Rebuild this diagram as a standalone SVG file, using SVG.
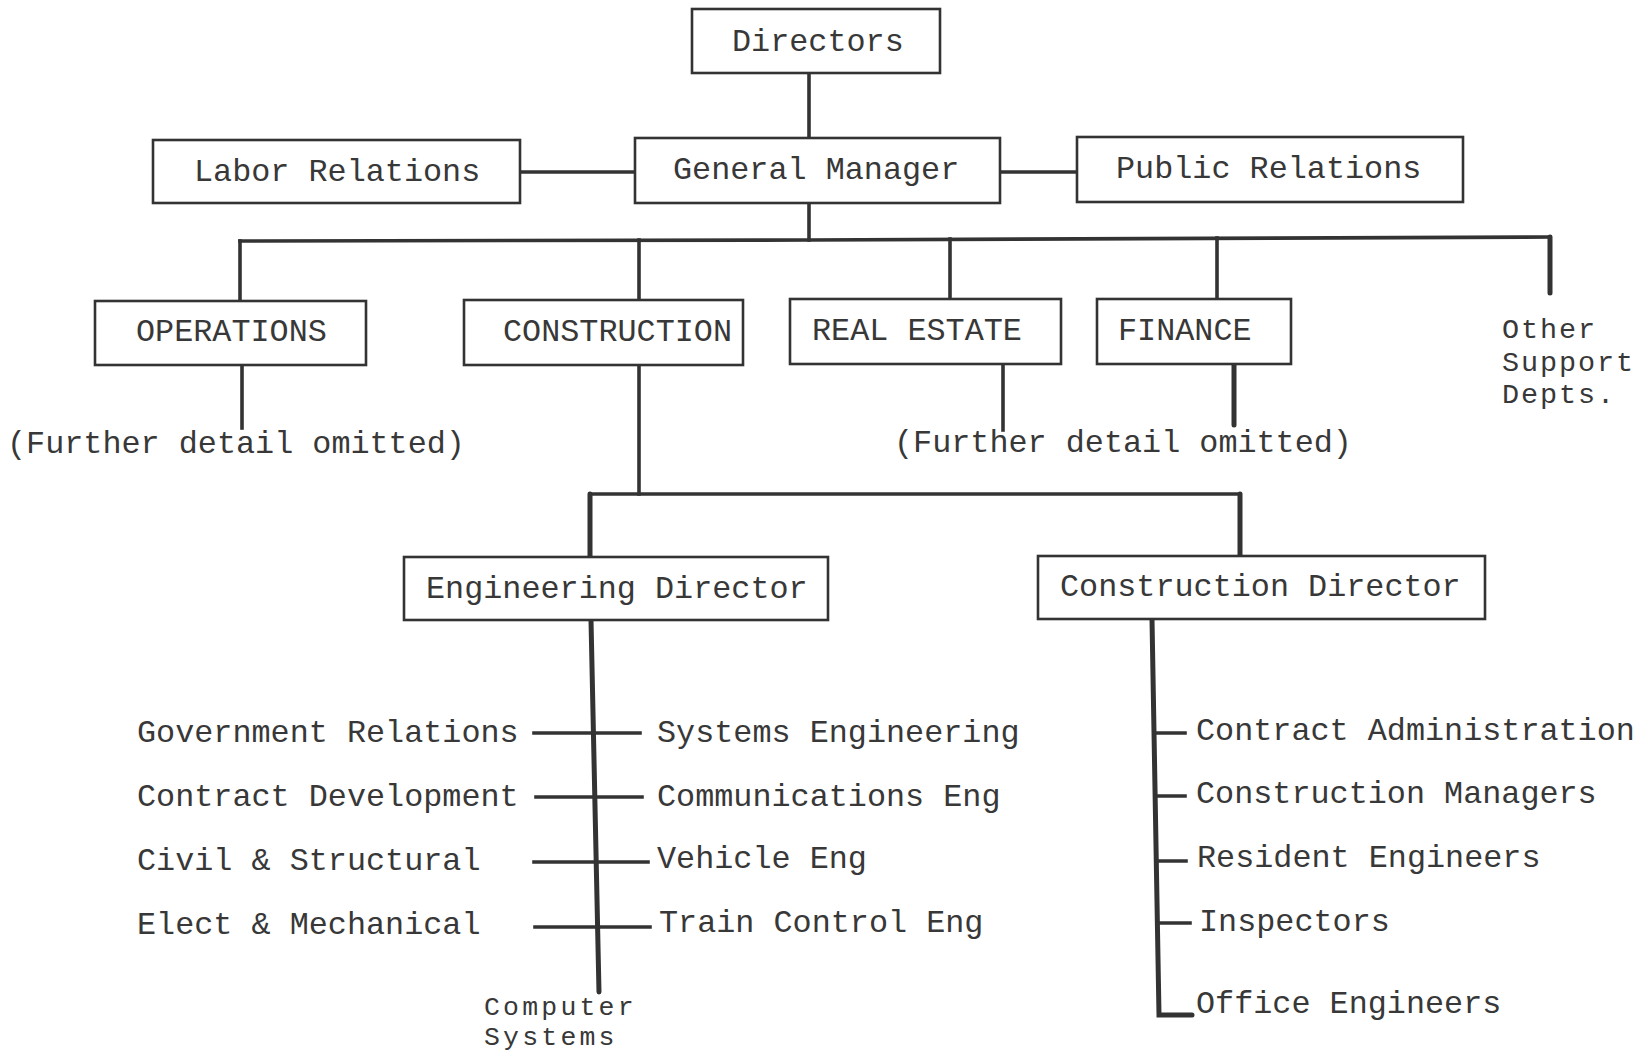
<svg xmlns="http://www.w3.org/2000/svg" width="1645" height="1055" viewBox="0 0 1645 1055">
<style>
.box{fill:#fff;stroke:#333;stroke-width:2.6}
.t{font-family:"Liberation Mono","Courier New",monospace;font-size:31.8px;fill:#383838}
.s1{font-size:28.5px;letter-spacing:1.9px}
.s2{font-size:26.5px;letter-spacing:3.2px}
.c{stroke:#333;stroke-width:3.6;fill:none;stroke-linecap:square}
.k{stroke:#333;stroke-width:5;fill:none;stroke-linecap:round}
</style>
<rect width="1645" height="1055" fill="#fff"/>
<g id="connectors">
<line class="c" x1="809" y1="73" x2="809" y2="138"/>
<line class="c" x1="520" y1="172" x2="635" y2="172"/>
<line class="c" x1="1000" y1="172" x2="1077" y2="172"/>
<line class="c" x1="809" y1="203" x2="809" y2="240"/>
<path class="c" d="M240 241 L809 240 L1550 237"/>
<line class="c" x1="240" y1="241" x2="240" y2="301"/>
<line class="c" x1="639" y1="240" x2="639" y2="300"/>
<line class="c" x1="950" y1="239" x2="950" y2="299"/>
<line class="c" x1="1217" y1="238" x2="1217" y2="299"/>
<line class="k" x1="1550" y1="237" x2="1550" y2="293"/>
<line class="c" x1="242" y1="365" x2="242" y2="428"/>
<line class="c" x1="1003" y1="364" x2="1003" y2="430"/>
<line class="k" x1="1234" y1="364" x2="1234" y2="425"/>
<line class="c" x1="639" y1="365" x2="639" y2="494"/>
<line class="c" x1="590" y1="494" x2="1240" y2="494"/>
<line class="k" x1="590" y1="494" x2="590" y2="557"/>
<line class="k" x1="1240" y1="494" x2="1240" y2="556"/>
<line class="k" x1="591" y1="620" x2="599" y2="992"/>
<line class="c" x1="534" y1="733" x2="640" y2="733"/>
<line class="c" x1="536" y1="797" x2="642" y2="797"/>
<line class="c" x1="534" y1="862" x2="648" y2="862"/>
<line class="c" x1="535" y1="927" x2="650" y2="927"/>
<path class="k" d="M1152 619 L1159 1015 L1192 1015"/>
<line class="c" x1="1154" y1="733" x2="1185" y2="733"/>
<line class="c" x1="1155" y1="796" x2="1185" y2="796"/>
<line class="c" x1="1156" y1="861" x2="1186" y2="861"/>
<line class="c" x1="1157" y1="923" x2="1190" y2="923"/>
</g>
<g id="directors"><rect class="box" x="692" y="9" width="248" height="64"/><text class="t" x="732" y="51">Directors</text></g>
<g id="general-manager"><rect class="box" x="635" y="138" width="365" height="65"/><text class="t" x="673" y="179">General Manager</text></g>
<g id="labor-relations"><rect class="box" x="153" y="140" width="367" height="63"/><text class="t" x="194" y="181">Labor Relations</text></g>
<g id="public-relations"><rect class="box" x="1077" y="137" width="386" height="65"/><text class="t" x="1116" y="178">Public Relations</text></g>
<g id="operations"><rect class="box" x="95" y="301" width="271" height="64"/><text class="t" x="136" y="341">OPERATIONS</text></g>
<g id="construction"><rect class="box" x="464" y="300" width="279" height="65"/><text class="t" x="503" y="341">CONSTRUCTION</text></g>
<g id="real-estate"><rect class="box" x="790" y="299" width="271" height="65"/><text class="t" x="812" y="340">REAL ESTATE</text></g>
<g id="finance"><rect class="box" x="1097" y="299" width="194" height="65"/><text class="t" x="1118" y="340">FINANCE</text></g>
<g id="other-support"><text class="t s1" x="1502" y="338">Other</text><text class="t s1" x="1502" y="371">Support</text><text class="t s1" x="1502" y="403">Depts.</text></g>
<g id="ops-detail"><text class="t" x="7" y="453">(Further detail omitted)</text></g>
<g id="re-fin-detail"><text class="t" x="894" y="452">(Further detail omitted)</text></g>
<g id="engineering-director"><rect class="box" x="404" y="557" width="424" height="63"/><text class="t" x="426" y="598">Engineering Director</text></g>
<g id="construction-director"><rect class="box" x="1038" y="556" width="447" height="63"/><text class="t" x="1060" y="596">Construction Director</text></g>
<g id="eng-left">
<text class="t" x="137" y="742">Government Relations</text>
<text class="t" x="137" y="806">Contract Development</text>
<text class="t" x="137" y="870">Civil &amp; Structural</text>
<text class="t" x="137" y="934">Elect &amp; Mechanical</text>
</g>
<g id="eng-right">
<text class="t" x="657" y="742">Systems Engineering</text>
<text class="t" x="657" y="806">Communications Eng</text>
<text class="t" x="657" y="868">Vehicle Eng</text>
<text class="t" x="659" y="932">Train Control Eng</text>
</g>
<g id="computer-systems"><text class="t s2" x="484" y="1015">Computer</text><text class="t s2" x="484" y="1045">Systems</text></g>
<g id="con-units">
<text class="t" x="1196" y="740">Contract Administration</text>
<text class="t" x="1196" y="803">Construction Managers</text>
<text class="t" x="1197" y="867">Resident Engineers</text>
<text class="t" x="1199" y="931">Inspectors</text>
<text class="t" x="1196" y="1013">Office Engineers</text>
</g>
</svg>
